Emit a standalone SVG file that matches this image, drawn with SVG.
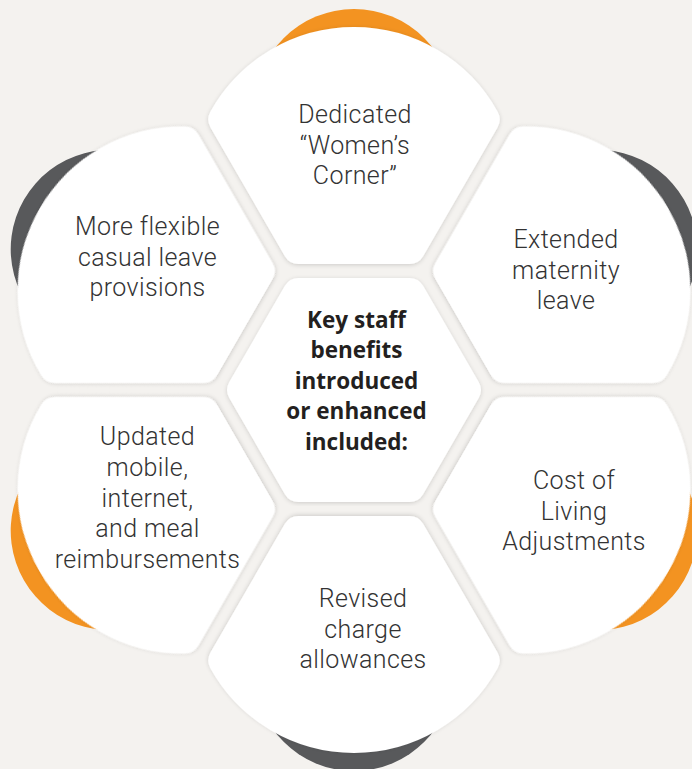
<svg xmlns="http://www.w3.org/2000/svg" xmlns:xlink="http://www.w3.org/1999/xlink" width="692" height="769" viewBox="0 0 692 769">
<defs>
<style>
.piece{fill:#ffffff;stroke:#ffffff;stroke-width:32;stroke-linejoin:round}
.orange{fill:#F39321}
.dark{fill:#58595B}
.t{font-family:Roboto,"Liberation Sans",sans-serif;font-weight:300;font-size:25px;letter-spacing:0.4px;fill:#333333;text-anchor:middle}
.tc{font-family:"Open Sans","Liberation Sans",sans-serif;font-weight:700;font-size:22.5px;fill:#231f20;text-anchor:middle}
</style>
<filter id="sh" x="-10%" y="-10%" width="120%" height="120%">
<feDropShadow dx="0" dy="1" stdDeviation="2.2" flood-color="#000" flood-opacity="0.16"/>
</filter>
<path id="petal" class="piece" d="M298.58,248 L409.42,248 L483.67,119.4 A148.3,148.3 0 0 0 224.33,119.4 Z"/>
<circle id="accent" cx="354" cy="108.5" r="99.5"/>
</defs>
<rect x="0" y="0" width="692" height="769" fill="#F4F2EF"/>
<g id="accents">
<use xlink:href="#accent" href="#accent" class="orange"/>
<use xlink:href="#accent" href="#accent" class="dark" transform="rotate(60 354 390)"/>
<use xlink:href="#accent" href="#accent" class="orange" transform="rotate(120 354 390)"/>
<use xlink:href="#accent" href="#accent" class="dark" transform="rotate(180 354 390)"/>
<use xlink:href="#accent" href="#accent" class="orange" transform="rotate(240 354 390)"/>
<use xlink:href="#accent" href="#accent" class="dark" transform="rotate(300 354 390)"/>
</g>
<g id="connectors"></g>
<g id="node-top">
<use xlink:href="#petal" href="#petal" filter="url(#sh)"/>
<text class="t" x="355" y="123">Dedicated</text>
<text class="t" x="355" y="153.5">“Women’s</text>
<text class="t" x="355" y="184">Corner”</text>
</g>
<g id="node-upper-right">
<use xlink:href="#petal" href="#petal" filter="url(#sh)" transform="rotate(60 354 390)"/>
<text class="t" x="566" y="248">Extended</text>
<text class="t" x="566" y="278.5">maternity</text>
<text class="t" x="566" y="309">leave</text>
</g>
<g id="node-lower-right">
<use xlink:href="#petal" href="#petal" filter="url(#sh)" transform="rotate(120 354 390)"/>
<text class="t" x="574" y="489">Cost of</text>
<text class="t" x="574" y="519.5">Living</text>
<text class="t" x="574" y="550">Adjustments</text>
</g>
<g id="node-bottom">
<use xlink:href="#petal" href="#petal" filter="url(#sh)" transform="rotate(180 354 390)"/>
<text class="t" x="363" y="607">Revised</text>
<text class="t" x="363" y="637.5">charge</text>
<text class="t" x="363" y="668">allowances</text>
</g>
<g id="node-lower-left">
<use xlink:href="#petal" href="#petal" filter="url(#sh)" transform="rotate(240 354 390)"/>
<text class="t" x="147.5" y="445">Updated</text>
<text class="t" x="147.5" y="475.8">mobile,</text>
<text class="t" x="147.5" y="506.6">internet,</text>
<text class="t" x="147.5" y="537.4">and meal</text>
<text class="t" x="147.5" y="568">reimbursements</text>
</g>
<g id="node-upper-left">
<use xlink:href="#petal" href="#petal" filter="url(#sh)" transform="rotate(300 354 390)"/>
<text class="t" x="147.5" y="235">More flexible</text>
<text class="t" x="147.5" y="265.5">casual leave</text>
<text class="t" x="147.5" y="296">provisions</text>
</g>
<g id="node-center">
<path class="piece" filter="url(#sh)" d="M243.15,390 L298.6,294 L409.4,294 L464.85,390 L409.4,486 L298.6,486 Z"/>
<text class="tc" x="356.5" y="328">Key staff</text>
<text class="tc" x="356.5" y="358.3">benefits</text>
<text class="tc" x="356.5" y="388.8">introduced</text>
<text class="tc" x="356.5" y="419.2">or enhanced</text>
<text class="tc" x="356.5" y="449.5">included:</text>
</g>
</svg>
